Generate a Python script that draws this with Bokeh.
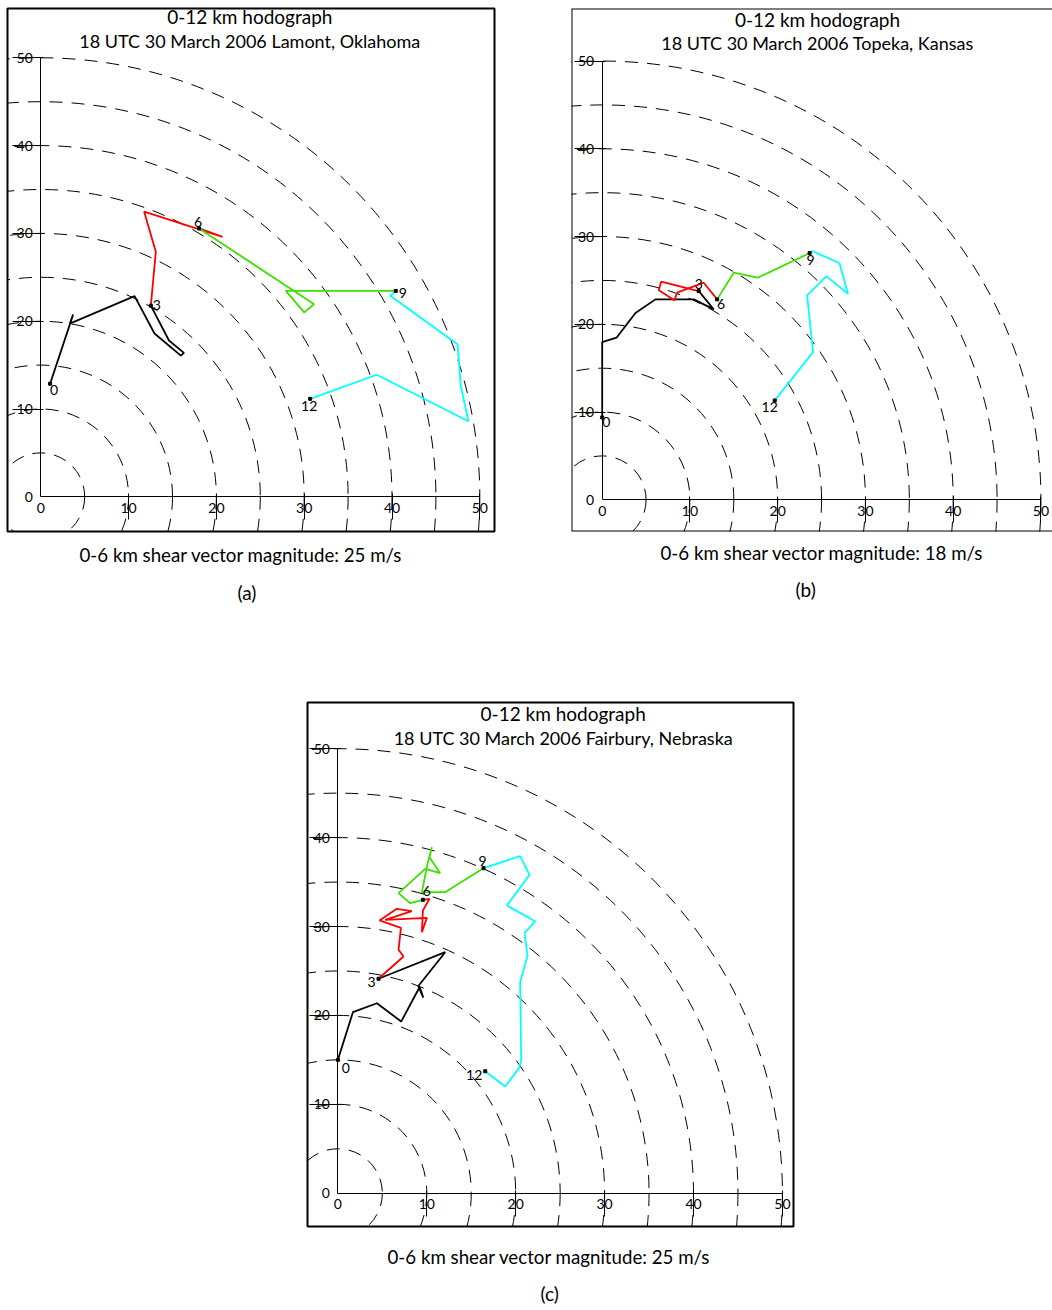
from bokeh.plotting import figure
from bokeh.models import LinearAxis, FixedTicker, Range1d, Label, Span, ColumnDataSource, Title
from bokeh.layouts import column, row
from bokeh.embed import file_html
from bokeh.resources import INLINE
from bokeh.core.properties import value

FONT = "Lato"

# ---------------- data ----------------
RADII = [5, 10, 15, 20, 25, 30, 35, 40, 45, 50]
AXIS_TICKS = [0, 10, 20, 30, 40, 50]
HEIGHT_LABELS = ["0", "3", "6", "9", "12"]
LAYER_COLORS = ["#000000", "#ff0000", "#3ee000", "#00ffff"]
TITLE_LINE1 = "0-12 km hodograph"

# (a) Lamont, Oklahoma  (u, v in m/s) for 0-3, 3-6, 6-9, 9-12 km
LAM_U_0_3 = [1.06, 3.68, 3.30, 10.68, 12.95, 15.95, 16.3, 14.6, 12.53]
LAM_V_0_3 = [12.88, 20.75, 19.73, 22.85, 18.6, 16.08, 16.39, 17.8, 21.77]
LAM_U_3_6 = [12.53, 13.1, 11.77, 20.7, 18.03]
LAM_V_3_6 = [21.77, 27.9, 32.47, 29.6, 30.57]
LAM_U_6_9 = [18.03, 31.13, 30.0, 27.9, 40.43]
LAM_V_6_9 = [30.57, 21.93, 21.0, 23.45, 23.45]
LAM_U_9_12 = [40.43, 39.8, 47.46, 47.84, 48.7, 38.27, 30.68]
LAM_V_9_12 = [23.45, 22.9, 17.38, 12.6, 8.6, 13.9, 11.16]
LAM_TITLE = "18 UTC 30 March 2006 Lamont, Oklahoma"
LAM_SHEAR = 25

# (b) Topeka, Kansas
TOP_U_0_3 = [0.0, 0.0, 1.63, 3.79, 6.07, 10.44, 12.71, 11.0]
TOP_V_0_3 = [9.38, 17.97, 18.47, 21.28, 22.84, 22.84, 21.7, 23.79]
TOP_U_3_6 = [11.0, 6.72, 6.45, 8.23, 8.54, 11.57, 13.1]
TOP_V_3_6 = [23.79, 24.86, 23.87, 22.73, 23.6, 24.74, 22.84]
TOP_U_6_9 = [13.1, 14.99, 17.72, 23.64]
TOP_V_6_9 = [22.84, 25.88, 25.31, 28.12]
TOP_U_9_12 = [23.64, 23.92, 27.03, 28.02, 25.55, 23.35, 24.03, 19.66]
TOP_V_9_12 = [28.12, 28.35, 26.98, 23.49, 25.46, 23.3, 16.83, 11.32]
TOP_TITLE = "18 UTC 30 March 2006 Topeka, Kansas"
TOP_SHEAR = 18

# (c) Fairbury, Nebraska
FAI_U_0_3 = [0.0, 1.69, 4.39, 7.12, 9.2, 9.6, 9.05, 12.07, 4.57]
FAI_V_0_3 = [15.0, 20.36, 21.37, 19.31, 23.2, 22.0, 23.3, 27.11, 24.12]
FAI_U_3_6 = [4.57, 7.38, 6.82, 7.09, 4.68, 6.63, 8.32, 5.32, 10.01, 9.45, 9.56, 10.3, 9.56]
FAI_V_3_6 = [24.12, 26.63, 27.38, 29.85, 30.68, 31.99, 31.72, 30.75, 30.98, 29.36, 31.8, 33.11, 33.0]
FAI_U_6_9 = [9.56, 8.13, 6.82, 9.82, 11.5, 10.3, 10.57, 10.12, 9.45, 12.07, 13.57, 16.38]
FAI_V_6_9 = [33.0, 32.62, 33.75, 36.49, 36.0, 37.8, 38.92, 37.23, 33.86, 33.86, 34.8, 36.56]
FAI_U_9_12 = [16.38, 20.5, 21.55, 19.01, 22.19, 20.99, 21.33, 20.5, 20.62, 20.39, 18.82, 16.57]
FAI_V_9_12 = [36.56, 37.91, 35.81, 32.36, 30.6, 29.25, 26.74, 23.74, 14.93, 14.1, 12.0, 13.72]
FAI_TITLE = "18 UTC 30 March 2006 Fairbury, Nebraska"
FAI_SHEAR = 25

TAGS = ["(a)", "(b)", "(c)"]

# ---------------- layout / style ----------------
GEO_A = dict(scale=8.78, ox=33.3, oy=34.7, fw=487, fh=523, bl=7, br=76, bt=8, bb=89, outline=True,
             tx=242.3, t1=8.3, t2=32.3, cap_off=72, cap_s=20, tag_off=230, tag_s=7)
GEO_B = dict(scale=8.775, ox=30.7, oy=31.7, fw=481, fh=523, bl=1, br=0, bt=8, bb=89, outline=False,
             tx=246, t1=10.7, t2=34.7, cap_off=89, cap_s=16, tag_off=224, tag_s=9)
GEO_C = dict(scale=8.89, ox=30.4, oy=33.3, fw=486, fh=524, bl=307, br=10, bt=82, bb=82, outline=True,
             tx=255.7, t1=11.3, t2=35.3, cap_off=80, cap_s=34, tag_off=233, tag_s=-9)

OFF_A = [(4, 6), (6, -1), (-1, -6), (7, 2), (-1, 7)]
OFF_B = [(4, 5), (0, -7), (4, 5), (1, 7), (-5, 7)]
OFF_C = [(8, 8), (-7, 3), (4, -9), (-1, -7), (-11, 4)]


def panel(segments, title2, shear, tag, g, offsets):
    sc = g["scale"]
    xr = Range1d(-g["ox"] / sc, (g["fw"] - g["ox"]) / sc)
    yr = Range1d(-g["oy"] / sc, (g["fh"] - g["oy"]) / sc)
    p = figure(x_range=xr, y_range=yr, frame_width=g["fw"], frame_height=g["fh"],
               min_border_left=g["bl"], min_border_right=g["br"],
               min_border_top=g["bt"], min_border_bottom=g["bb"],
               x_axis_location=None, y_axis_location=None, title=None,
               output_backend="svg", toolbar_location=None,
               background_fill_color="white", border_fill_color="white")
    p.grid.visible = False
    if g["outline"]:
        p.outline_line_color = "black"
        p.outline_line_width = 2
    else:
        p.outline_line_color = None
        for loc, dim in ((xr.start, "height"), (yr.start, "width"), (yr.end, "width")):
            p.add_layout(Span(location=loc, dimension=dim, line_color="black", line_width=2))

    # dashed range circles
    p.circle(x=[0] * len(RADII), y=[0] * len(RADII), radius=RADII, fill_color=None,
             line_color="black", line_width=1, line_dash="13 9")

    # axes: one for labels, one for ticks + axis line
    for side, tick_out, standoff in (("below", 23, 6), ("left", 28, 8)):
        lab = LinearAxis(fixed_location=0, ticker=FixedTicker(ticks=AXIS_TICKS),
                         axis_line_color=None, major_tick_line_color=None, minor_tick_line_color=None,
                         major_tick_out=0, major_tick_in=0, minor_tick_out=0, minor_tick_in=0,
                         major_label_standoff=standoff, major_label_text_font=FONT,
                         major_label_text_font_size="14px", major_label_text_color="black")
        p.add_layout(lab, side)
        tk = LinearAxis(fixed_location=0, ticker=FixedTicker(ticks=AXIS_TICKS[1:]), bounds=(0, 50),
                        axis_line_color="black", axis_line_width=1,
                        major_tick_line_color="black", major_tick_out=tick_out, major_tick_in=3,
                        minor_tick_line_color=None,
                        major_label_overrides={t: "" for t in AXIS_TICKS[1:]})
        p.add_layout(tk, side)

    for (u, v), col in zip(segments, LAYER_COLORS):
        p.line(u, v, line_color=col, line_width=1.8)

    lx = [s[0][0] for s in segments] + [segments[-1][0][-1]]
    ly = [s[1][0] for s in segments] + [segments[-1][1][-1]]
    src = ColumnDataSource(dict(x=lx, y=ly, t=HEIGHT_LABELS,
                                dx=[o[0] for o in offsets], dy=[o[1] for o in offsets]))
    p.scatter("x", "y", source=src, marker="square", size=3, color="black")
    p.text("x", "y", text="t", x_offset="dx", y_offset="dy", source=src,
           text_align="center", text_baseline="middle", text_font=value(FONT),
           text_font_size="14px", text_color="black")

    for txt, dy, fs in ((TITLE_LINE1, g["t1"], "19px"), (title2, g["t2"], "18px")):
        p.add_layout(Label(x=g["tx"], y=g["fh"] - dy, x_units="screen", y_units="screen", text=txt,
                           text_align="center", text_baseline="middle", text_font=FONT,
                           text_font_size=fs, text_color="black"))
    p.add_layout(Title(text=f"0-6 km shear vector magnitude: {shear} m/s", align="left",
                       offset=g["cap_off"], standoff=g["cap_s"], text_font=FONT, text_font_size="18.7px",
                       text_font_style="normal", text_color="black"), "below")
    p.add_layout(Title(text=tag, align="left", offset=g["tag_off"], standoff=g["tag_s"], text_font=FONT,
                       text_font_size="19px", text_font_style="normal", text_color="black"), "below")
    return p


pa = panel([(LAM_U_0_3, LAM_V_0_3), (LAM_U_3_6, LAM_V_3_6), (LAM_U_6_9, LAM_V_6_9), (LAM_U_9_12, LAM_V_9_12)],
           LAM_TITLE, LAM_SHEAR, TAGS[0], GEO_A, OFF_A)
pb = panel([(TOP_U_0_3, TOP_V_0_3), (TOP_U_3_6, TOP_V_3_6), (TOP_U_6_9, TOP_V_6_9), (TOP_U_9_12, TOP_V_9_12)],
           TOP_TITLE, TOP_SHEAR, TAGS[1], GEO_B, OFF_B)
pc = panel([(FAI_U_0_3, FAI_V_0_3), (FAI_U_3_6, FAI_V_3_6), (FAI_U_6_9, FAI_V_6_9), (FAI_U_9_12, FAI_V_9_12)],
           FAI_TITLE, FAI_SHEAR, TAGS[2], GEO_C, OFF_C)

layout = column(row(pa, pb), pc)
open("out.html", "w").write(file_html(layout, INLINE))
